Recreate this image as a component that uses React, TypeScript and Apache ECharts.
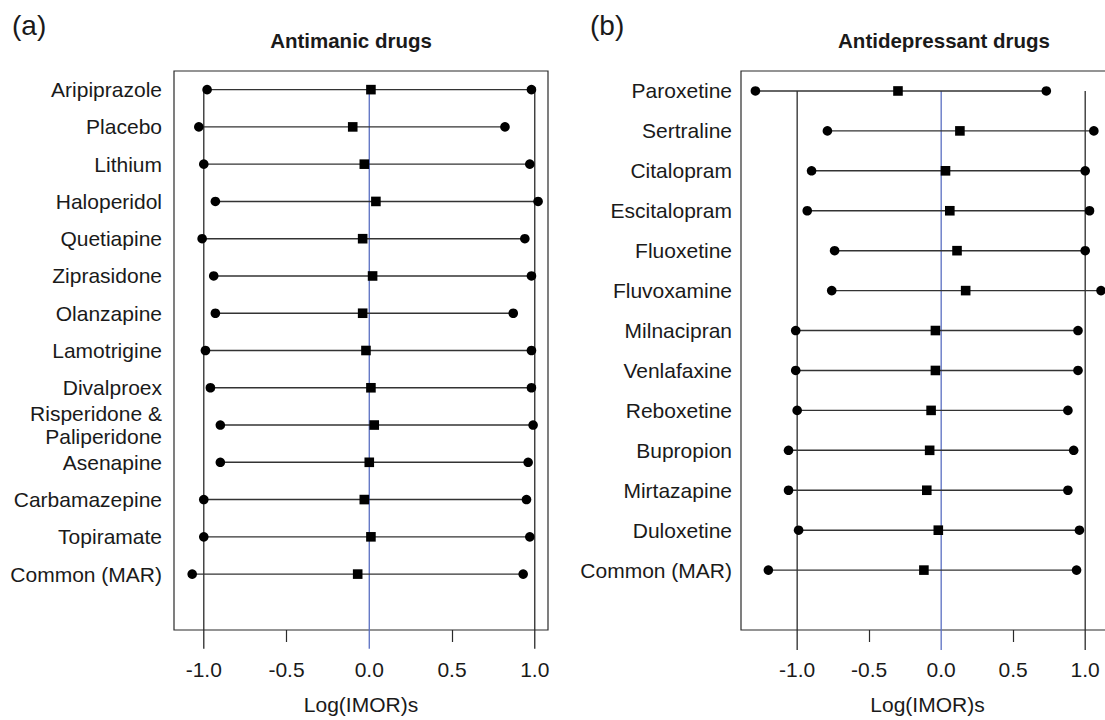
import React, { useEffect, useRef } from "react";
import * as echarts from "echarts";

// Panel (a): antimanic drugs
const antimanicDrugs = [
  "Aripiprazole",
  "Placebo",
  "Lithium",
  "Haloperidol",
  "Quetiapine",
  "Ziprasidone",
  "Olanzapine",
  "Lamotrigine",
  "Divalproex",
  "Risperidone &\nPaliperidone",
  "Asenapine",
  "Carbamazepine",
  "Topiramate",
  "Common (MAR)",
];
const antimanicLower = [-0.98, -1.03, -1.0, -0.93, -1.01, -0.94, -0.93, -0.99, -0.96, -0.9, -0.9, -1.0, -1.0, -1.07];
const antimanicPoint = [0.01, -0.1, -0.03, 0.04, -0.04, 0.02, -0.04, -0.02, 0.01, 0.03, 0.0, -0.03, 0.01, -0.07];
const antimanicUpper = [0.98, 0.82, 0.97, 1.02, 0.94, 0.98, 0.87, 0.98, 0.98, 0.99, 0.96, 0.95, 0.97, 0.93];

// Panel (b): antidepressant drugs
const antidepressantDrugs = [
  "Paroxetine",
  "Sertraline",
  "Citalopram",
  "Escitalopram",
  "Fluoxetine",
  "Fluvoxamine",
  "Milnacipran",
  "Venlafaxine",
  "Reboxetine",
  "Bupropion",
  "Mirtazapine",
  "Duloxetine",
  "Common (MAR)",
];
const antidepressantLower = [-1.29, -0.79, -0.9, -0.93, -0.74, -0.76, -1.01, -1.01, -1.0, -1.06, -1.06, -0.99, -1.2];
const antidepressantPoint = [-0.3, 0.13, 0.03, 0.06, 0.11, 0.17, -0.04, -0.04, -0.07, -0.08, -0.1, -0.02, -0.12];
const antidepressantUpper = [0.73, 1.06, 1.0, 1.03, 1.0, 1.11, 0.95, 0.95, 0.88, 0.92, 0.88, 0.96, 0.94];

// Axis ticks and reference guides
const xTickLabels = [-1.0, -0.5, 0.0, 0.5, 1.0];
const xMinorTicks = [-0.5, 0.5];
const guideValues = [-1, 0, 1];

const FONT = '"Liberation Sans", Arial, Helvetica, sans-serif';
const TEXT = "#1a1a1a";
const DARK = "#2a2a2a";
const BLUE = "#5a6fc2";

function buildPanel(
  idx: number,
  names: string[],
  lower: number[],
  point: number[],
  upper: number[],
  xMin: number,
  xMax: number,
  labelMargin: number
) {
  const n = names.length;
  const yMax = n + 1.5;
  const guideEnd = n + 2;
  const rows = names.map((_, i) => [lower[i], point[i], upper[i], i + 1]);

  const xAxis = {
    type: "value",
    gridIndex: idx,
    min: xMin,
    max: xMax,
    axisLine: { show: false },
    splitLine: { show: false },
    axisTick: {
      show: true,
      customValues: xMinorTicks,
      length: 12,
      lineStyle: { color: DARK, width: 1.2 },
    },
    axisLabel: {
      customValues: xTickLabels,
      formatter: (v: number) => v.toFixed(1),
      fontFamily: FONT,
      fontSize: 21,
      color: TEXT,
      margin: 29,
    },
    name: "Log(IMOR)s",
    nameLocation: "middle",
    nameGap: 64,
    nameTextStyle: { fontFamily: FONT, fontSize: 21, color: TEXT },
  };

  const yAxis = {
    type: "value",
    gridIndex: idx,
    min: 0.5,
    max: yMax,
    inverse: true,
    axisLine: { show: false },
    axisTick: { show: false },
    splitLine: { show: false },
    axisLabel: {
      customValues: names.map((_, i) => i + 1),
      formatter: (v: number) => names[Math.round(v) - 1] ?? "",
      fontFamily: FONT,
      fontSize: 21,
      lineHeight: 23,
      color: TEXT,
      margin: labelMargin,
      align: "right",
    },
  };

  const guides = {
    type: "custom",
    xAxisIndex: idx,
    yAxisIndex: idx,
    z: 1,
    silent: true,
    data: guideValues.map((v) => [v]),
    encode: { x: 0 },
    renderItem: (_p: any, api: any) => {
      const x = api.value(0);
      const a = api.coord([x, 1]);
      const b = api.coord([x, guideEnd]);
      return {
        type: "line",
        shape: { x1: a[0], y1: a[1], x2: b[0], y2: b[1] },
        style: { stroke: x === 0 ? BLUE : DARK, lineWidth: 1.3 },
      };
    },
  };

  const intervals = {
    type: "custom",
    xAxisIndex: idx,
    yAxisIndex: idx,
    z: 3,
    silent: true,
    data: rows,
    encode: { x: [0, 1, 2], y: 3 },
    renderItem: (_p: any, api: any) => {
      const row = api.value(3);
      const lo = api.coord([api.value(0), row]);
      const pt = api.coord([api.value(1), row]);
      const hi = api.coord([api.value(2), row]);
      const r = 4.8;
      const s = 9.6;
      return {
        type: "group",
        children: [
          {
            type: "line",
            shape: { x1: lo[0], y1: lo[1], x2: hi[0], y2: hi[1] },
            style: { stroke: "#333333", lineWidth: 1.4 },
          },
          { type: "circle", shape: { cx: lo[0], cy: lo[1], r }, style: { fill: "#000" } },
          { type: "circle", shape: { cx: hi[0], cy: hi[1], r }, style: { fill: "#000" } },
          {
            type: "rect",
            shape: { x: pt[0] - s / 2, y: pt[1] - s / 2, width: s, height: s },
            style: { fill: "#000" },
          },
        ],
      };
    },
  };

  return { xAxis, yAxis, series: [guides, intervals] };
}

export default function App() {
  const ref = useRef<HTMLDivElement>(null);

  useEffect(() => {
    if (!ref.current) return;
    const chart = echarts.init(ref.current, undefined, { renderer: "svg" });

    const a = buildPanel(0, antimanicDrugs, antimanicLower, antimanicPoint, antimanicUpper, -1.18, 1.08, 12);
    const b = buildPanel(1, antidepressantDrugs, antidepressantLower, antidepressantPoint, antidepressantUpper, -1.39, 1.2, 9);

    const gridBox = { show: true, borderColor: DARK, borderWidth: 1.2, backgroundColor: "transparent" };

    chart.setOption({
      animation: false,
      backgroundColor: "#ffffff",
      grid: [
        { ...gridBox, left: 174, top: 71, width: 374, height: 562 },
        // the right panel's box runs past the visible edge
        { ...gridBox, left: 741, top: 71, width: 373, height: 562 },
      ],
      xAxis: [a.xAxis, b.xAxis],
      yAxis: [a.yAxis, b.yAxis],
      series: [...a.series, ...b.series],
      graphic: [
        {
          type: "text",
          left: 12,
          top: 11,
          style: { text: "(a)", font: `28px ${FONT}`, fill: TEXT },
        },
        {
          type: "text",
          x: 351,
          y: 40,
          style: {
            text: "Antimanic drugs",
            font: `bold 20.5px ${FONT}`,
            fill: TEXT,
            align: "center",
            verticalAlign: "middle",
          },
        },
        {
          type: "text",
          left: 590,
          top: 11,
          style: { text: "(b)", font: `28px ${FONT}`, fill: TEXT },
        },
        {
          type: "text",
          x: 944,
          y: 40,
          style: {
            text: "Antidepressant drugs",
            font: `bold 20.5px ${FONT}`,
            fill: TEXT,
            align: "center",
            verticalAlign: "middle",
          },
        },
      ],
    });

    return () => chart.dispose();
  }, []);

  return (
    <div
      style={{
        position: "absolute",
        left: 0,
        top: 0,
        width: 1105,
        height: 720,
        overflow: "hidden",
        background: "#fff",
      }}
    >
      <div ref={ref} style={{ width: 1130, height: 720 }} />
    </div>
  );
}
